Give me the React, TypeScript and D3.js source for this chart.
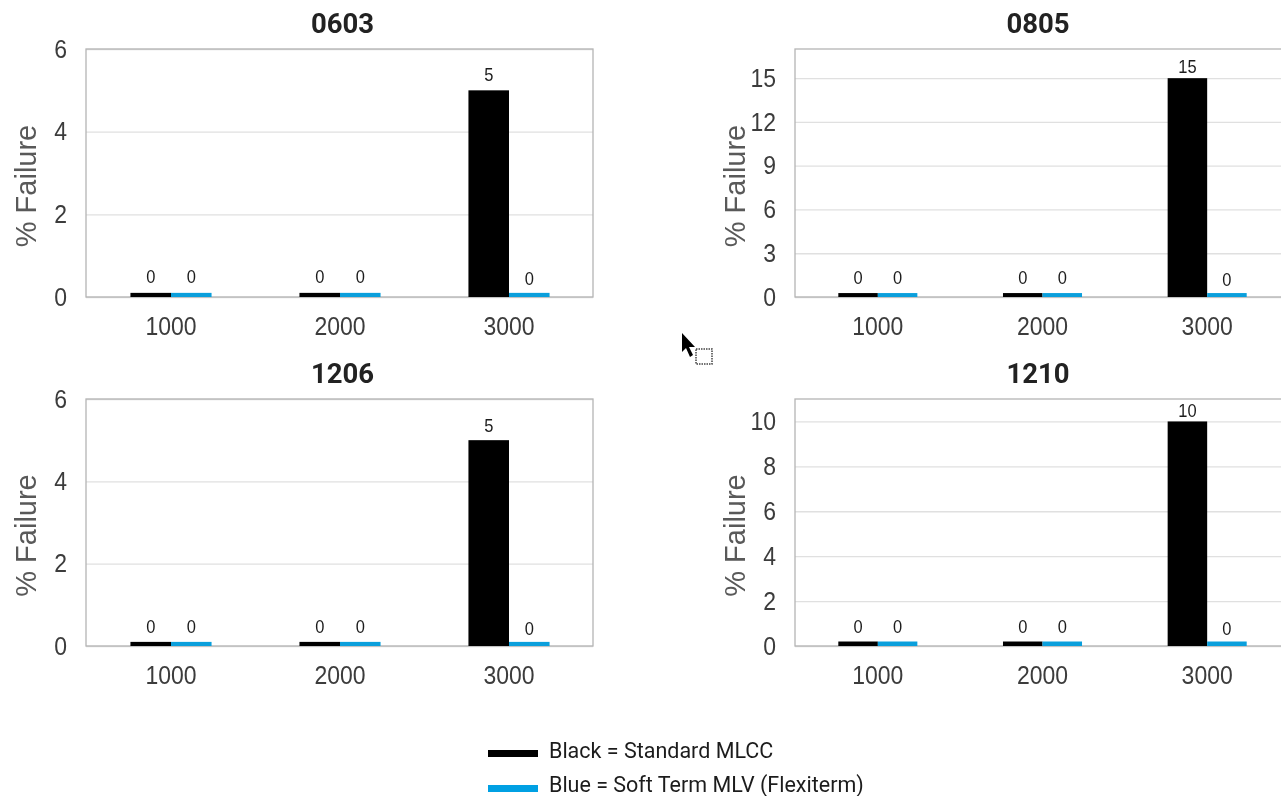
import { useEffect, useRef } from 'react'
import * as d3 from 'd3'

const categories = ['1000', '2000', '3000']

const black0603 = [0.1, 0.1, 5]
const blue0603 = [0.1, 0.1, 0.1]
const ticks0603 = [0, 2, 4, 6]

const black0805 = [0.27, 0.27, 15]
const blue0805 = [0.27, 0.27, 0.27]
const ticks0805 = [0, 3, 6, 9, 12, 15]

const black1206 = [0.1, 0.1, 5]
const blue1206 = [0.1, 0.1, 0.1]
const ticks1206 = [0, 2, 4, 6]

const black1210 = [0.2, 0.2, 10]
const blue1210 = [0.2, 0.2, 0.2]
const ticks1210 = [0, 2, 4, 6, 8, 10]

const legendLabels = ['Black = Standard MLCC', 'Blue = Soft Term MLV (Flexiterm)']

const BLACK = '#000000'
const BLUE = '#0a9fdc'
const TEXT = '#3c3c3c'

const panels = [
  { title: '0603', black: black0603, blue: blue0603, ticks: ticks0603, yMax: 6, left: 86, width: 507, top: 49, bottom: 297, tallGap: 10, zeroGap: 10, titleX: 342.5 },
  { title: '0805', black: black0805, blue: blue0805, ticks: ticks0805, yMax: 17, left: 795, width: 494, top: 49, bottom: 297, tallGap: 6, zeroGap: 10, titleX: 1038 },
  { title: '1206', black: black1206, blue: blue1206, ticks: ticks1206, yMax: 6, left: 86, width: 507, top: 399, bottom: 646, tallGap: 9, zeroGap: 9, titleX: 342.5 },
  { title: '1210', black: black1210, blue: blue1210, ticks: ticks1210, yMax: 11, left: 795, width: 494, top: 399, bottom: 646, tallGap: 5, zeroGap: 9, titleX: 1038 },
]

const fmt = d3.format('.0f')

// the source is a slightly stretched screenshot, so the digits run tall
const stretch = (sel: any, sx: number, sy: number) =>
  sel
    .style('transform-box', 'fill-box')
    .style('transform-origin', 'center')
    .style('transform', `scale(${sx},${sy})`)

const App = () => {
  const svgRef = useRef<SVGSVGElement | null>(null)

  useEffect(() => {
    if (!svgRef.current) return
    const svg = d3.select(svgRef.current)
    svg.selectAll('*').remove()

    panels.forEach(p => {
      const g = svg.append('g').attr('transform', `translate(${p.left},${p.top})`)
      const width = p.width
      const height = p.bottom - p.top

      const x = d3.scaleBand().domain(categories).range([0.5, width + 0.5])
      const y = d3.scaleLinear().domain([0, p.yMax]).range([height, 0])
      const barW = x.bandwidth() * 0.24

      // Grid lines
      g.append('g')
        .call(d3.axisLeft(y).tickValues(p.ticks).tickSize(-width).tickFormat(() => ''))
        .call(a => a.select('.domain').remove())
        .selectAll('line')
        .attr('stroke', '#e0e0e0')
        .attr('stroke-width', 1.3)

      // Frame
      g.append('rect')
        .attr('width', width)
        .attr('height', height)
        .attr('fill', 'none')
        .attr('stroke', '#b4b4b4')
        .attr('stroke-width', 1.3)

      // Bars
      const series = [
        { values: p.black, color: BLACK, off: -barW },
        { values: p.blue, color: BLUE, off: 0 },
      ]
      series.forEach((s, si) => {
        categories.forEach((c, i) => {
          const cx = (x(c) as number) + x.bandwidth() / 2
          const v = s.values[i]
          g.append('rect')
            .attr('x', cx + s.off)
            .attr('y', y(v))
            .attr('width', barW)
            .attr('height', height - y(v))
            .attr('fill', s.color)

          const tall = v >= 1
          const nudge = si === 1 && i === 2 ? 2 : 0
          const label = g.append('text')
            .attr('x', cx + s.off + barW / 2)
            .attr('y', y(v) - (tall ? p.tallGap : p.zeroGap) + nudge)
            .attr('text-anchor', 'middle')
            .attr('font-family', 'Liberation Sans')
            .attr('font-size', 17)
            .attr('fill', '#1c1c1c')
            .text(fmt(v))
          stretch(label, 0.97, 1.1)
        })
      })

      // Axis labels
      const xLabels = g.append('g')
        .attr('transform', `translate(0,${height})`)
        .call(d3.axisBottom(x).tickSize(0).tickPadding(21))
        .call(a => a.select('.domain').remove())
        .selectAll('text')
        .attr('font-family', 'Liberation Sans')
        .attr('font-size', 23)
        .attr('fill', TEXT)
      stretch(xLabels, 1, 1.1)

      const yLabels = g.append('g')
        .call(d3.axisLeft(y).tickValues(p.ticks).tickSize(0).tickPadding(19).tickFormat(d => String(d)))
        .call(a => a.select('.domain').remove())
        .selectAll('text')
        .attr('font-family', 'Liberation Sans')
        .attr('font-size', 23)
        .attr('fill', TEXT)
      stretch(yLabels, 1, 1.1)

      g.append('text')
        .attr('transform', 'rotate(-90)')
        .attr('x', -height / 2 - 13)
        .attr('y', -50)
        .attr('text-anchor', 'middle')
        .attr('font-family', 'Liberation Sans')
        .attr('font-size', 29)
        .attr('fill', '#595959')
        .text('% Failure')

      // Title
      svg.append('text')
        .attr('x', p.titleX)
        .attr('y', p.top - 16)
        .attr('text-anchor', 'middle')
        .attr('font-family', 'Roboto')
        .attr('font-weight', 700)
        .attr('font-size', 27.5)
        .attr('fill', '#222222')
        .text(p.title)
    })

    // Legend
    const legend = svg.append('g').attr('transform', 'translate(488,751)')
    const colors = [BLACK, '#00a0e3']
    legendLabels.forEach((label, i) => {
      const row = legend.append('g').attr('transform', `translate(0,${i * 34})`)
      row.append('rect').attr('y', -1 + i).attr('width', 50).attr('height', 7).attr('fill', colors[i])
      row.append('text')
        .attr('x', 61)
        .attr('y', 7)
        .attr('font-family', 'Roboto')
        .attr('font-size', 21.5)
        .attr('fill', '#1c1c1c')
        .text(label)
    })

    // Mouse pointer left in the screenshot
    const cursor = svg.append('g').attr('transform', 'translate(682,333)')
    cursor.append('path').attr('d', 'M0 0 L0 19 L4 15 L8 24 L11 22 L7 14 L13 14 Z').attr('fill', '#000')
    cursor.append('rect')
      .attr('x', 14)
      .attr('y', 16)
      .attr('width', 16)
      .attr('height', 15)
      .attr('fill', 'none')
      .attr('stroke', '#444')
      .attr('stroke-width', 1.5)
      .attr('stroke-dasharray', '1.5 1')
  }, [])

  return (
    <svg
      ref={svgRef}
      width={1281}
      height={796}
      style={{ position: 'absolute', left: 0, top: 0, filter: 'blur(0.4px)' }}
    />
  )
}

export default App
